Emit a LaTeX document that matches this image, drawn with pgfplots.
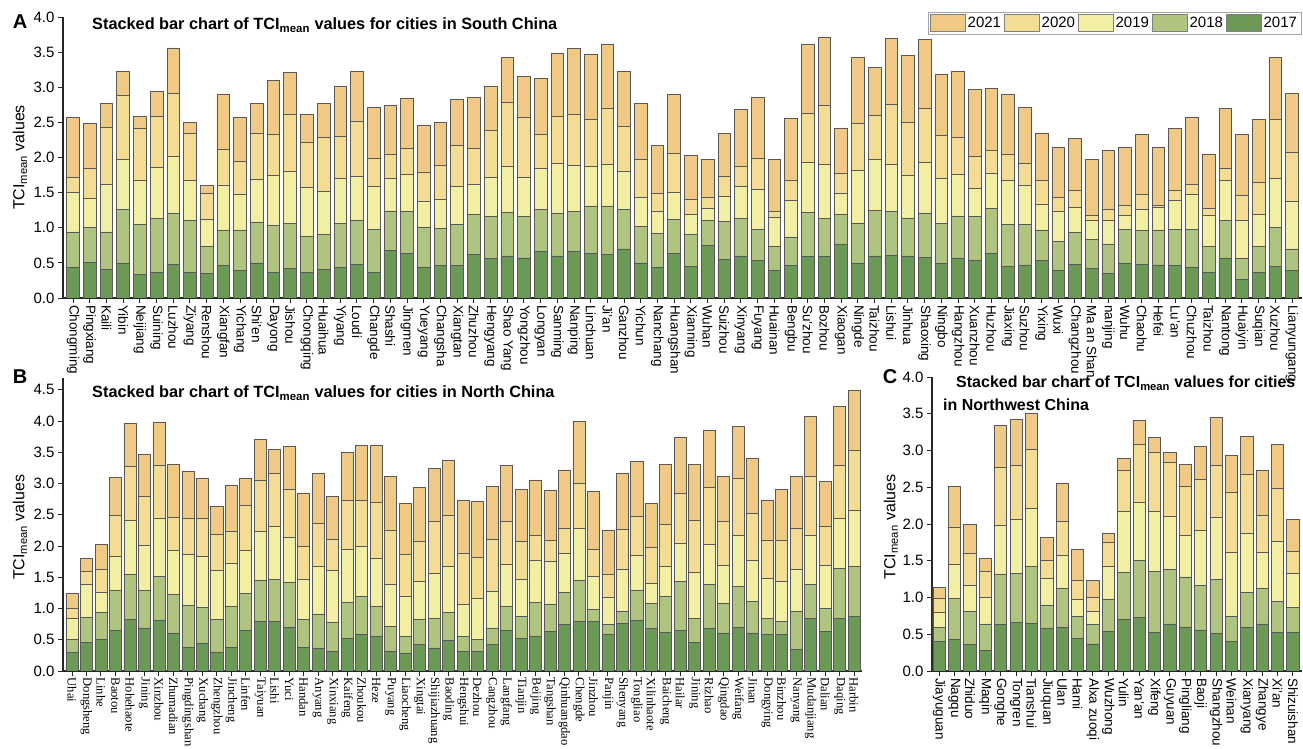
\documentclass[border=0pt]{standalone}
\usepackage{fontspec}
\setmainfont{Liberation Sans}
\newfontfamily\serifticks{Liberation Serif}
\usepackage{pgfplots}
\usepackage{pgfplotstable}
\pgfplotsset{compat=1.18}

\definecolor{c17}{RGB}{107,154,86}
\definecolor{c18}{RGB}{175,197,127}
\definecolor{c19}{RGB}{242,238,162}
\definecolor{c20}{RGB}{245,220,147}
\definecolor{c21}{RGB}{240,201,133}

\pgfplotstableread[col sep=comma]{
name,y17,y18,y19,y20,y21
Chongming,0.43,0.51,0.56,0.22,0.85
Pingxiang,0.51,0.49,0.42,0.42,0.65
Kaili,0.41,0.53,0.68,0.81,0.34
Yibin,0.50,0.76,0.72,0.91,0.34
Neijiang,0.34,0.71,0.63,0.74,0.17
Suining,0.37,0.76,0.73,0.72,0.36
Luzhou,0.48,0.73,0.81,0.89,0.65
Ziyang,0.37,0.74,0.57,0.67,0.15
Renshou,0.35,0.38,0.39,0.37,0.11
Xiangfan,0.46,0.51,0.64,0.50,0.79
Yichang,0.39,0.58,0.51,0.47,0.62
Shi'en,0.50,0.58,0.61,0.66,0.42
Dayong,0.37,0.66,0.71,0.59,0.77
Jishou,0.42,0.64,0.75,0.80,0.60
Chongqing,0.36,0.52,0.69,0.65,0.40
Huaihua,0.41,0.50,0.61,0.77,0.48
Yiyang,0.44,0.62,0.64,0.60,0.72
Loudi,0.48,0.63,0.62,0.79,0.71
Changde,0.37,0.61,0.61,0.40,0.72
Shashi,0.68,0.56,0.46,0.35,0.70
Jingmen,0.64,0.59,0.53,0.37,0.71
Yueyang,0.44,0.56,0.37,0.42,0.67
Changsha,0.46,0.53,0.42,0.48,0.61
Xiangtan,0.46,0.59,0.54,0.58,0.66
Zhuzhou,0.62,0.57,0.43,0.51,0.73
Hengyang,0.56,0.60,0.56,0.66,0.64
Shao Yang,0.60,0.62,0.66,0.90,0.64
Yongzhou,0.57,0.59,0.56,0.85,0.59
Longyan,0.66,0.60,0.59,0.48,0.80
Sanming,0.60,0.61,0.71,0.66,0.91
Nanping,0.67,0.56,0.66,0.73,0.93
Linchuan,0.64,0.67,0.57,0.66,0.93
Ji'an,0.62,0.69,0.60,0.79,0.91
Ganzhou,0.70,0.56,0.55,0.64,0.78
Yichun,0.50,0.52,0.42,0.53,0.80
Nanchang,0.44,0.48,0.32,0.25,0.68
Huangshan,0.63,0.49,0.38,0.56,0.84
Xianning,0.45,0.46,0.28,0.22,0.62
Wuhan,0.75,0.36,0.17,0.16,0.53
Suizhou,0.55,0.54,0.36,0.28,0.61
Xinyang,0.60,0.53,0.46,0.28,0.81
Fuyang,0.54,0.44,0.57,0.44,0.86
Huainan,0.39,0.34,0.42,0.09,0.73
Bengbu,0.46,0.41,0.52,0.29,0.88
Su'zhou,0.59,0.63,0.71,0.70,0.98
Bozhou,0.60,0.53,0.77,0.85,0.96
Xiaogan,0.76,0.43,0.30,0.29,0.64
Ningde,0.50,0.57,0.75,0.66,0.94
Taizhou,0.60,0.65,0.72,0.63,0.68
Lishui,0.61,0.62,0.67,0.86,0.93
Jinhua,0.60,0.54,0.61,0.75,0.96
Shaoxing,0.58,0.63,0.72,0.77,0.98
Ningbo,0.49,0.57,0.64,0.61,0.88
Hangzhou,0.57,0.60,0.59,0.53,0.94
Xuanzhou,0.53,0.63,0.40,0.46,0.95
Huzhou,0.63,0.65,0.49,0.33,0.88
Jiaxing,0.45,0.60,0.63,0.37,0.85
Suzhou,0.47,0.58,0.56,0.31,0.79
Yixing,0.53,0.44,0.37,0.34,0.67
Wuxi,0.39,0.41,0.44,0.19,0.72
Changzhou,0.48,0.45,0.36,0.25,0.73
Ma an Shan,0.42,0.41,0.27,0.08,0.79
nanjing,0.35,0.42,0.34,0.15,0.84
Wuhu,0.49,0.49,0.20,0.14,0.83
Chaohu,0.48,0.48,0.30,0.21,0.86
Hefei,0.47,0.50,0.32,0.03,0.83
Lu'an,0.46,0.52,0.41,0.14,0.88
Chuzhou,0.44,0.54,0.50,0.14,0.95
Taizhou,0.37,0.37,0.44,0.09,0.78
Nantong,0.57,0.54,0.56,0.18,0.85
Huaiyin,0.26,0.31,0.54,0.35,0.87
Suqian,0.37,0.37,0.45,0.46,0.89
Xuzhou,0.45,0.56,0.69,0.84,0.89
Lianyungang,0.39,0.31,0.68,0.69,0.85
}\tabA

\pgfplotstableread[col sep=comma]{
name,y17,y18,y19,y20,y21
Uhai,0.30,0.20,0.34,0.16,0.24
Dongsheng,0.46,0.40,0.53,0.21,0.21
Linhe,0.51,0.43,0.32,0.36,0.41
Baotou,0.65,0.64,0.55,0.65,0.61
Hohehaote,0.82,0.73,0.87,0.85,0.70
Jining,0.68,0.61,0.72,0.79,0.67
Xinzhou,0.81,0.71,0.93,0.85,0.68
Zhumadian,0.61,0.61,0.71,0.53,0.85
Pingdingshan,0.38,0.67,0.81,0.59,0.75
Xuchang,0.45,0.57,0.81,0.62,0.64
Zhengzhou,0.30,0.53,0.78,0.58,0.44
Jincheng,0.38,0.66,0.69,0.51,0.74
Linfen,0.65,0.59,0.69,0.72,0.44
Taiyuan,0.79,0.66,0.78,0.83,0.65
Lishi,0.79,0.68,0.85,0.84,0.39
Yuci,0.70,0.72,0.72,0.77,0.69
Handan,0.38,0.45,0.63,0.54,0.84
Anyang,0.37,0.53,0.77,0.70,0.80
Xinxiang,0.31,0.47,0.83,0.50,0.68
Kaifeng,0.53,0.57,0.85,0.78,0.77
Zhoukou,0.59,0.60,0.81,0.73,0.88
Heze,0.55,0.48,0.78,0.89,0.91
Puyang,0.31,0.40,0.67,0.87,0.86
Liaocheng,0.29,0.27,0.64,0.66,0.83
Xingtai,0.42,0.41,0.60,0.65,0.86
Shijiazhuang,0.37,0.47,0.73,0.83,0.85
Baoding,0.49,0.45,0.74,0.81,0.88
Hengshui,0.31,0.25,0.51,0.82,0.84
Dezhou,0.31,0.20,0.65,0.66,0.89
Cangzhou,0.42,0.27,0.58,0.84,0.84
Langfang,0.65,0.38,0.67,0.69,0.90
Tianjin,0.53,0.35,0.58,0.61,0.84
Beijing,0.56,0.54,0.67,0.41,0.88
Tangshan,0.64,0.43,0.69,0.34,0.80
Qinhuangdao,0.75,0.51,0.62,0.40,0.94
Chengde,0.79,0.66,0.83,0.72,1.00
Jinzhou,0.79,0.20,0.53,0.43,0.93
Panjin,0.59,0.15,0.44,0.36,0.72
Shenyang,0.76,0.19,0.67,0.65,0.90
Tongliao,0.81,0.48,0.56,0.63,0.87
Xilinhaote,0.68,0.40,0.32,0.58,0.71
Baicheng,0.62,0.57,0.49,0.67,0.96
Hailar,0.65,0.78,0.62,0.79,0.90
Jining,0.46,0.38,0.74,0.84,0.89
Rizhao,0.68,0.71,0.64,0.91,0.92
Qingdao,0.61,0.48,0.60,0.70,0.72
Weifang,0.70,0.65,0.82,0.92,0.83
Jinan,0.61,0.51,0.65,0.75,0.88
Dongying,0.59,0.25,0.64,0.62,0.64
Binzhou,0.59,0.20,0.65,0.66,0.81
Nanyang,0.35,0.60,0.68,0.65,0.83
Mudanjiang,0.84,0.54,0.80,0.93,0.97
Dalian,0.64,0.36,0.69,0.63,0.72
Daqing,0.84,0.80,0.80,0.85,0.95
Harbin,0.88,0.80,0.90,0.95,0.97
}\tabB

\pgfplotstableread[col sep=comma]{
name,y17,y18,y19,y20,y21
Jiayuguan,0.40,0.19,0.21,0.19,0.15
Nagqu,0.43,0.56,0.46,0.51,0.55
Zhiduo,0.36,0.45,0.35,0.44,0.40
Maqin,0.28,0.36,0.36,0.36,0.18
Gonghe,0.63,0.69,0.66,0.79,0.57
Tongren,0.66,0.67,0.73,0.74,0.62
Tianshui,0.65,0.77,0.79,0.80,0.50
Jiuquan,0.58,0.32,0.36,0.25,0.31
Ulan,0.59,0.53,0.46,0.45,0.52
Hami,0.44,0.30,0.24,0.26,0.42
Alxa zuoqi,0.37,0.26,0.18,0.19,0.23
Wuzhong,0.54,0.44,0.45,0.32,0.13
Yulin,0.71,0.63,0.83,0.56,0.16
Yan'an,0.73,0.78,0.78,0.79,0.33
Xifeng,0.53,0.82,0.82,0.81,0.20
Guyuan,0.64,0.74,0.72,0.74,0.14
Pingliang,0.60,0.68,0.57,0.66,0.30
Baoji,0.56,0.61,0.75,0.69,0.45
Shangzhou,0.51,0.74,0.84,0.71,0.65
Weinan,0.40,0.35,0.87,0.81,0.51
Xianyang,0.59,0.48,0.81,0.79,0.52
Zhangye,0.64,0.48,0.50,0.50,0.61
Xi'an,0.53,0.42,0.82,0.71,0.60
Shizuishan,0.52,0.35,0.46,0.30,0.43
}\tabC

\pgfplotsset{
  tci/.style={
    scale only axis,
    ybar stacked,
    ymin=0,
    axis x line*=bottom,
    axis y line*=left,
    axis line style={black!85, line width=1.1pt},
    tick align=outside,
    major tick length=5pt,
    every tick/.style={black!85, line width=0.9pt},
    xtick=data,
    xtick pos=bottom, ytick pos=left,
    yticklabel style={font=\fontsize{15}{18}\selectfont,
      /pgf/number format/.cd, fixed, fixed zerofill, precision=1, assume math mode=true},
    xticklabel style={rotate=-90, anchor=west, inner sep=2pt},
    ylabel={TCI\textsubscript{mean} values},
    ylabel style={anchor=center, font=\fontsize{16}{19}\selectfont},
    every axis plot/.append style={draw=black!65, line width=0.6pt},
  },
  swatch/.style={legend image code/.code={\draw[##1, draw=black!50, line width=0.6pt] (0pt,-8.5pt) rectangle (35pt,8.5pt);}},
}

\begin{document}
\begin{tikzpicture}
\useasboundingbox (0pt,0pt) rectangle (1303pt,749pt);

% Panel A
\begin{axis}[tci,
  at={(63pt,451pt)}, anchor=south west,
  width=1239pt, height=281pt,
  xmin=-0.6, xmax=73.6, ymax=4,
  ytick={0,0.5,1,1.5,2,2.5,3,3.5,4},
  bar width=0.76,
  xticklabels from table={\tabA}{name},
  xticklabel style={font=\fontsize{13.5}{15}\selectfont},
  ylabel style={at={(axis description cs:-0.0347,0.5)}},
  reverse legend,
  legend columns=5,
  legend style={at={(0.9995,1.0178)}, anchor=north east, draw=black!35, line width=0.8pt,
    font=\fontsize{15}{18}\selectfont, inner xsep=2pt, inner ysep=2pt,
    nodes={inner xsep=2pt, inner ysep=0pt},
    /tikz/every even column/.append style={column sep=1pt}},
]
\addplot[fill=c17, swatch] table[x expr=\coordindex, y=y17]{\tabA};
\addplot[fill=c18, swatch] table[x expr=\coordindex, y=y18]{\tabA};
\addplot[fill=c19, swatch] table[x expr=\coordindex, y=y19]{\tabA};
\addplot[fill=c20, swatch] table[x expr=\coordindex, y=y20]{\tabA};
\addplot[fill=c21, swatch] table[x expr=\coordindex, y=y21]{\tabA};
\legend{2017,2018,2019,2020,2021}
\end{axis}

% Panel B
\begin{axis}[tci,
  at={(63pt,78pt)}, anchor=south west,
  width=799pt, height=293pt,
  xmin=-0.62, xmax=54.55, ymax=4.69,
  ytick={0,0.5,1,1.5,2,2.5,3,3.5,4,4.5},
  bar width=0.83,
  xticklabels from table={\tabB}{name},
  xticklabel style={font=\serifticks\fontsize{12.6}{14}\selectfont, inner sep=1.5pt},
  ylabel style={at={(axis description cs:-0.0538,0.49)}},
]
\addplot[fill=c17] table[x expr=\coordindex, y=y17]{\tabB};
\addplot[fill=c18] table[x expr=\coordindex, y=y18]{\tabB};
\addplot[fill=c19] table[x expr=\coordindex, y=y19]{\tabB};
\addplot[fill=c20] table[x expr=\coordindex, y=y20]{\tabB};
\addplot[fill=c21] table[x expr=\coordindex, y=y21]{\tabB};
\end{axis}

% Panel C
\begin{axis}[tci,
  at={(932pt,78pt)}, anchor=south west,
  width=370pt, height=294pt,
  xmin=-0.46, xmax=23.59, ymax=4,
  ytick={0,0.5,1,1.5,2,2.5,3,3.5,4},
  bar width=0.8,
  xticklabels from table={\tabC}{name},
  xticklabel style={font=\fontsize{13.5}{15}\selectfont},
  ylabel style={at={(axis description cs:-0.111,0.49)}},
]
\addplot[fill=c17] table[x expr=\coordindex, y=y17]{\tabC};
\addplot[fill=c18] table[x expr=\coordindex, y=y18]{\tabC};
\addplot[fill=c19] table[x expr=\coordindex, y=y19]{\tabC};
\addplot[fill=c20] table[x expr=\coordindex, y=y20]{\tabC};
\addplot[fill=c21] table[x expr=\coordindex, y=y21]{\tabC};
\end{axis}

% Titles and panel letters
\node[anchor=west, font=\bfseries\fontsize{16.3}{19}\selectfont, inner sep=0pt] at (92pt,724pt)
  {Stacked bar chart of TCI\textsubscript{mean} values for cities in South China};
\node[anchor=west, font=\bfseries\fontsize{16.3}{19}\selectfont, inner sep=0pt] at (92pt,356pt)
  {Stacked bar chart of TCI\textsubscript{mean} values for cities in North China};
\node[anchor=west, font=\bfseries\fontsize{16}{19}\selectfont, inner sep=0pt] at (956pt,366pt)
  {Stacked bar chart of TCI\textsubscript{mean} values for cities};
\node[anchor=west, font=\bfseries\fontsize{16}{19}\selectfont, inner sep=0pt] at (943pt,344pt)
  {in Northwest China};
\node[font=\bfseries\fontsize{20}{24}\selectfont, inner sep=0pt] at (20pt,727pt) {A};
\node[font=\bfseries\fontsize{20}{24}\selectfont, inner sep=0pt] at (20pt,372pt) {B};
\node[font=\bfseries\fontsize{20}{24}\selectfont, inner sep=0pt] at (890pt,372pt) {C};
\end{tikzpicture}
\end{document}
